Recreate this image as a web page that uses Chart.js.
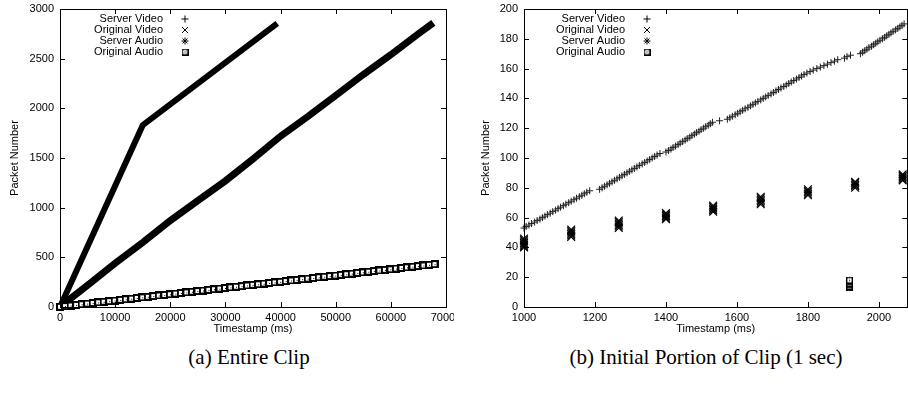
<!DOCTYPE html>
<html>
<head>
<meta charset="utf-8">
<title>Packet trace</title>
<script src="https://cdn.jsdelivr.net/npm/chart.js@4.4.0/dist/chart.umd.min.js"></script>
<style>
  html, body { margin: 0; padding: 0; background: #fff; width: 908px; height: 396px; overflow: hidden; }
  .panel { position: absolute; top: 0; height: 345px; }
  #whole { left: 0; width: 454px; }
  #start { left: 454px; width: 460px; }
  .caption { position: absolute; top: 345px; height: 24px; line-height: 24px; text-align: center;
             font: 21px "Liberation Serif", "Times New Roman", serif; color: #000; white-space: nowrap; }
</style>
</head>
<body>
<div class="panel" id="whole"><canvas id="chart-whole"></canvas></div>
<div class="panel" id="start"><canvas id="chart-start"></canvas></div>
<div class="caption" style="left:149px;width:200px">(a) Entire Clip</div>
<div class="caption" style="left:496px;width:420px">(b) Initial Portion of Clip (1 sec)</div>

<script>
// ---- (a) whole clip: traces are dense enough to read as thick strokes ----
const WHOLE_SV_T = [0, 15000, 39400];
const WHOLE_SV_N = [0, 1830, 2855];

const WHOLE_OV_T = [0, 1000, 5000, 10000, 15000, 20000, 25000, 30000, 35000, 40000,
                    45000, 50000, 55000, 60000, 65000, 67700];
const WHOLE_OV_N = [0, 45, 220, 440, 650, 870, 1070, 1270, 1490, 1720,
                    1920, 2130, 2340, 2540, 2750, 2860];

// audio goes out in bursts roughly once a second
const WHOLE_AUDIO_T = [0, 917, 1917, 2917, 3917, 4917, 5917, 6917, 7917, 8917, 9917,
  10917, 11917, 12917, 13917, 14917, 15917, 16917, 17917, 18917, 19917,
  20917, 21917, 22917, 23917, 24917, 25917, 26917, 27917, 28917, 29917,
  30917, 31917, 32917, 33917, 34917, 35917, 36917, 37917, 38917, 39917,
  40917, 41917, 42917, 43917, 44917, 45917, 46917, 47917, 48917, 49917,
  50917, 51917, 52917, 53917, 54917, 55917, 56917, 57917, 58917, 59917,
  60917, 61917, 62917, 63917, 64917, 65917, 66917, 67917];
const WHOLE_AUDIO_N = [2, 9, 15, 21, 28, 34, 40, 47, 53, 59, 65,
  72, 78, 84, 91, 97, 103, 110, 116, 122, 128,
  135, 141, 147, 154, 160, 166, 173, 179, 185, 191,
  198, 204, 210, 217, 223, 229, 236, 242, 248, 254,
  261, 267, 273, 280, 286, 292, 299, 305, 311, 317,
  324, 330, 336, 343, 349, 355, 362, 368, 374, 380,
  387, 393, 399, 406, 412, 418, 425, 431];

// ---- (b) first second, packet by packet ----
const START_SV_T = [
  1000, 1006, 1014, 1021, 1030, 1037, 1045, 1052, 1059, 1066,
  1074, 1081, 1089, 1096, 1103, 1111, 1118, 1126, 1133, 1141,
  1148, 1156, 1163, 1170, 1177, 1185,
  1213, 1220, 1227, 1234, 1241, 1248, 1255, 1262, 1269, 1276,
  1283, 1290, 1297, 1304, 1311, 1318, 1325, 1333, 1340, 1347,
  1354, 1361, 1368, 1375, 1383,
  1400, 1407, 1414, 1420, 1427, 1434, 1440, 1447, 1454, 1460,
  1467, 1473, 1480, 1486, 1493, 1499, 1506, 1512, 1519, 1525,
  1531, 1551,
  1573, 1580, 1587, 1595, 1602, 1609, 1616, 1623, 1631, 1638,
  1645, 1652, 1659, 1667, 1674, 1681, 1688, 1696, 1703, 1710,
  1717, 1724, 1732, 1739, 1746, 1753, 1760, 1768, 1775, 1782,
  1789, 1797,
  1806, 1815, 1825, 1835, 1845, 1855, 1865, 1875, 1884,
  1903, 1910, 1920,
  1948, 1954, 1960, 1966, 1972, 1979, 1985, 1991, 1997, 2003,
  2010, 2016, 2022, 2028, 2034, 2040, 2047, 2053, 2059, 2065,
  2071];
const START_SV_N = [
  53, 54, 55, 56, 57, 58, 59, 60, 61, 62,
  63, 64, 65, 66, 67, 68, 69, 70, 71, 72,
  73, 74, 75, 76, 77, 78,
  79, 80, 81, 82, 83, 84, 85, 86, 87, 88,
  89, 90, 91, 92, 93, 94, 95, 96, 97, 98,
  99, 100, 101, 102, 103,
  104, 105, 106, 107, 108, 109, 110, 111, 112, 113,
  114, 115, 116, 117, 118, 119, 120, 121, 122, 123,
  124, 125,
  126, 127, 128, 129, 130, 131, 132, 133, 134, 135,
  136, 137, 138, 139, 140, 141, 142, 143, 144, 145,
  146, 147, 148, 149, 150, 151, 152, 153, 154, 155,
  156, 157,
  158, 159, 160, 161, 162, 163, 164, 165, 166,
  167, 168, 169,
  170, 171, 172, 173, 174, 175, 176, 177, 178, 179,
  180, 181, 182, 183, 184, 185, 186, 187, 188, 189,
  190];

// original video: every packet of a frame carries the frame timestamp
const START_OV_T = [
  1000, 1000, 1000, 1000, 1000, 1000, 1000,
  1133, 1133, 1133, 1133, 1133, 1133,
  1267, 1267, 1267, 1267, 1267, 1267,
  1400, 1400, 1400, 1400, 1400,
  1533, 1533, 1533, 1533, 1533,
  1667, 1667, 1667, 1667, 1667, 1667,
  1800, 1800, 1800, 1800, 1800,
  1933, 1933, 1933, 1933, 1933,
  2067, 2067, 2067, 2067, 2067];
const START_OV_N = [
  40, 41, 42, 43, 44, 45, 46,
  47, 48, 49, 50, 51, 52,
  53, 54, 55, 56, 57, 58,
  59, 60, 61, 62, 63,
  64, 65, 66, 67, 68,
  69, 70, 71, 72, 73, 74,
  75, 76, 77, 78, 79,
  80, 81, 82, 83, 84,
  85, 86, 87, 88, 89];

const START_AUDIO_T = [1917, 1917, 1917, 1917, 1917, 1917];
const START_AUDIO_N = [13, 14, 15, 16, 17, 18];

const LABELS = ["Server Video", "Original Video", "Server Audio", "Original Audio"];

const FONT = '"Liberation Sans", Arial, Helvetica, sans-serif';
const INK = "#000";
const TICK = 5;

const zip = (xs, ys) => xs.map((x, i) => ({ x, y: ys[i] }));

// hollow square with a centre dot, as gnuplot draws its box point
function boxDot(size, lw) {
  const c = document.createElement("canvas");
  c.width = c.height = size;
  const g = c.getContext("2d");
  g.fillStyle = "#fff";
  g.fillRect(0, 0, size, size);
  g.strokeStyle = INK;
  g.lineWidth = lw;
  g.strokeRect(lw / 2, lw / 2, size - lw, size - lw);
  g.fillStyle = INK;
  const m = Math.floor(size / 2);
  g.fillRect(m, m, 1, 1);
  return c;
}
const BOX = boxDot(7, 1.4);
const BOX_HEAVY = boxDot(8, 2);

// plain frame with inward ticks on all four sides
const frameTicks = {
  id: "frameTicks",
  afterDatasetsDraw(chart) {
    const { ctx, chartArea: a, scales: { x, y } } = chart;
    ctx.save();
    ctx.strokeStyle = INK;
    ctx.lineWidth = 1;
    ctx.strokeRect(Math.round(a.left) + 0.5, Math.round(a.top) + 0.5,
                   Math.round(a.right - a.left), Math.round(a.bottom - a.top));
    ctx.beginPath();
    x.ticks.forEach(t => {
      const px = Math.round(x.getPixelForValue(t.value)) + 0.5;
      ctx.moveTo(px, a.bottom); ctx.lineTo(px, a.bottom - TICK);
      ctx.moveTo(px, a.top);    ctx.lineTo(px, a.top + TICK);
    });
    y.ticks.forEach(t => {
      const py = Math.round(y.getPixelForValue(t.value)) + 0.5;
      ctx.moveTo(a.left, py);  ctx.lineTo(a.left + TICK, py);
      ctx.moveTo(a.right, py); ctx.lineTo(a.right - TICK, py);
    });
    ctx.stroke();
    ctx.restore();
  },
};

// gnuplot-style key: label right-aligned, symbol to its right
const KEY_RADIUS = { cross: 3.5, crossRot: 4.2, star: 3.5 };
const keyBox = {
  id: "keyBox",
  afterDraw(chart, args, opts) {
    const ctx = chart.ctx;
    ctx.save();
    ctx.font = `11px ${FONT}`;
    ctx.textAlign = "right";
    ctx.textBaseline = "middle";
    chart.data.datasets.forEach((ds, i) => {
      const y = opts.top + i * opts.row;
      ctx.fillStyle = INK;
      ctx.fillText(ds.label, opts.textRight, y);
      ctx.strokeStyle = INK;
      ctx.fillStyle = INK;
      ctx.lineWidth = 1;
      const style = ds.keyStyle || ds.pointStyle;
      Chart.helpers.drawPoint(ctx, { pointStyle: style, radius: KEY_RADIUS[style] || 3.5, borderWidth: 1.1, rotation: 0 },
                              opts.symbolX, y);
    });
    ctx.restore();
  },
};

function axes(xMin, xMax, xStep, yMax, yStep, yWidth, yTitlePad) {
  const tickFont = { family: FONT, size: 11 };
  return {
    x: {
      type: "linear", min: xMin, max: xMax,
      afterFit(s) { s.height = 38; s.paddingLeft = 0; s.paddingRight = 0; },
      ticks: { stepSize: xStep, includeBounds: false, color: INK, font: tickFont, padding: 4,
               maxRotation: 0, autoSkip: false, callback: v => String(v) },
      grid: { display: false, drawTicks: false },
      border: { display: false },
      title: { display: true, text: "Timestamp (ms)", color: INK, font: tickFont, padding: { top: 0, bottom: 9 } },
    },
    y: {
      type: "linear", min: 0, max: yMax,
      afterFit(s) { s.width = yWidth; s.paddingTop = 0; s.paddingBottom = 0; },
      ticks: { stepSize: yStep, color: INK, font: tickFont, padding: 6, autoSkip: false,
               callback: v => String(v) },
      grid: { display: false, drawTicks: false },
      border: { display: false },
      title: { display: true, text: "Packet Number", color: INK, font: tickFont, padding: { top: yTitlePad, bottom: 0 } },
    },
  };
}

function makeChart(id, datasets, scales, padding, key) {
  return new Chart(document.getElementById(id), {
    type: "scatter",
    data: { datasets },
    plugins: [frameTicks, keyBox],
    options: {
      responsive: true,
      maintainAspectRatio: false,
      animation: false,
      events: [],
      layout: { padding },
      scales,
      plugins: { legend: { display: false }, tooltip: { enabled: false }, keyBox: key },
    },
  });
}

makeChart("chart-whole", [
  { label: LABELS[0], data: zip(WHOLE_SV_T, WHOLE_SV_N), pointStyle: "cross", pointRadius: 0,
    showLine: true, borderColor: INK, borderWidth: 6, clip: false },
  { label: LABELS[1], data: zip(WHOLE_OV_T, WHOLE_OV_N), pointStyle: "crossRot", pointRadius: 0,
    showLine: true, borderColor: INK, borderWidth: 7, clip: false },
  { label: LABELS[2], data: zip(WHOLE_AUDIO_T, WHOLE_AUDIO_N), pointStyle: "star", pointRadius: 3,
    borderColor: INK, backgroundColor: INK, borderWidth: 1, clip: false },
  { label: LABELS[3], data: zip(WHOLE_AUDIO_T, WHOLE_AUDIO_N), pointStyle: BOX_HEAVY, keyStyle: BOX,
    pointRadius: 3, borderColor: INK, borderWidth: 1, order: -1, clip: false },
], axes(0, 70000, 10000, 3000, 500, 60, 8), { top: 9, right: 8, left: 0, bottom: 0 },
   { textRight: 163, symbolX: 185, top: 19, row: 11 });

makeChart("chart-start", [
  { label: LABELS[0], data: zip(START_SV_T, START_SV_N), pointStyle: "cross", pointRadius: 3.5,
    borderColor: "#222", borderWidth: 1, clip: false },
  { label: LABELS[1], data: zip(START_OV_T, START_OV_N), pointStyle: "crossRot", pointRadius: 5.5,
    borderColor: INK, borderWidth: 1.2, clip: false },
  { label: LABELS[2], data: zip(START_AUDIO_T, START_AUDIO_N), pointStyle: "star", pointRadius: 3.5,
    borderColor: INK, backgroundColor: INK, borderWidth: 1, clip: false },
  { label: LABELS[3], data: zip(START_AUDIO_T, START_AUDIO_N), pointStyle: BOX, pointRadius: 3,
    borderColor: INK, borderWidth: 1, order: -1, clip: false },
], axes(1000, 2080, 200, 200, 20, 70, 25), { top: 9, right: 4, left: 0, bottom: 0 },
   { textRight: 171, symbolX: 193, top: 19, row: 11 });
</script>
</body>
</html>
